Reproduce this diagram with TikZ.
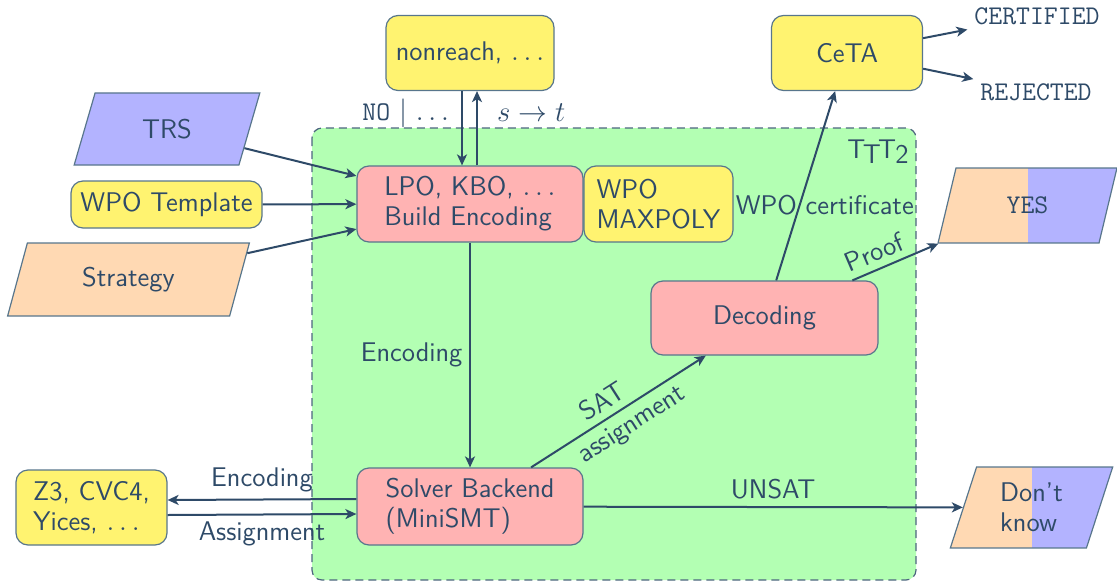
\documentclass[tikz,border=0pt]{standalone}
\usepackage{fontspec}
\renewcommand\familydefault{\sfdefault}
\usetikzlibrary{shapes.geometric,arrows.meta}
\definecolor{ink}{RGB}{46,74,104}
\definecolor{edge}{RGB}{88,118,140}
\definecolor{boxyellow}{RGB}{255,243,112}
\definecolor{boxred}{RGB}{255,179,179}
\definecolor{boxgreen}{RGB}{179,255,179}
\definecolor{boxblue}{RGB}{179,179,255}
\definecolor{boxorange}{RGB}{255,217,179}

\begin{document}
\begin{tikzpicture}[x=0.5pt,y=-0.5pt,
  every node/.style={text=ink, font=\fontsize{13.5}{15}\selectfont},
  box/.style={draw=edge, line width=0.6pt, rounded corners=6pt, inner sep=0pt, align=left},
  tool/.style={box, fill=boxyellow},
  stage/.style={box, fill=boxred},
  io/.style={trapezium, trapezium left angle=70, trapezium right angle=110,
    trapezium stretches=true, draw=edge, line width=0.6pt, inner sep=0pt, align=left},
  split/.style={path picture={
    \fill[boxorange] (path picture bounding box.south west) rectangle (path picture bounding box.north);
    \fill[boxblue] (path picture bounding box.north) rectangle (path picture bounding box.south east);}},
  verdict/.style={font=\fontsize{13.5}{15}\selectfont\ttfamily},
  flow/.style={draw=ink, line width=1pt, -{Stealth[length=5.5pt,width=5pt,inset=1.5pt]}},
]
\useasboundingbox (0,0) rectangle (1117,583);

% the tool itself
\draw[draw=ink!85, fill=boxgreen, line width=0.6pt, dash pattern=on 4pt off 2.5pt,
  rounded corners=5pt] (312,128) rectangle (916,580);
\node (ttt) at (878,152) {T\kern-.1em\raisebox{-.45ex}{T}\kern-.1em T\kern-.03em\raisebox{-.45ex}{2}};

% boxes
\node[tool, minimum width=84pt, minimum height=37.5pt] (nonreach) at (470,53) {nonreach, $\ldots$};
\node[tool, minimum width=75.5pt, minimum height=37.5pt] (ceta) at (847,53) {CeTA};
\node[verdict] (cert) at (1037,16) {CERTIFIED};
\node[verdict] (rej) at (1036,92) {REJECTED};

\node[stage, minimum width=113pt, minimum height=38pt] (lpo) at (470,204) {LPO, KBO, $\ldots$\\Build Encoding};
\node[tool, minimum width=74.5pt, minimum height=38pt] (maxpoly) at (658.5,204) {WPO\\MAXPOLY};
\node[stage, minimum width=113.5pt, minimum height=37pt] (decode) at (764.5,318) {Decoding};
\node[stage, minimum width=113pt, minimum height=38.5pt] (solver) at (470,506.5) {Solver Backend\\(MiniSMT)};
\node[tool, minimum width=75.5pt, minimum height=37.5pt] (smt) at (91.5,507.5) {Z3, CVC4,\\Yices, $\ldots$};

\node[io, fill=boxblue, minimum width=93pt, minimum height=36pt] (trs) at (167,129) {TRS};
\node[tool, minimum width=95.5pt, minimum height=23.5pt] (tmpl) at (166.5,204.5) {WPO Template};
\node[io, fill=boxorange, minimum width=121.5pt, minimum height=36.5pt] (strat) at (128.5,279.5) {Strategy};

\node[io, split, trapezium left angle=73, trapezium right angle=107,
  minimum width=89.5pt, minimum height=37.5pt] (yes) at (1027.5,205.5) {\ttfamily YES};
\node[io, split, trapezium left angle=73, trapezium right angle=107,
  minimum width=81.5pt, minimum height=40.5pt] (unknown) at (1031.5,507.5) {Don't\\know};

% connectors
\draw[flow] (trs) -- (lpo);
\draw[flow] (tmpl) -- (lpo);
\draw[flow] (strat) -- (lpo);

\draw[flow] ([xshift=-4pt]nonreach.south) -- ([xshift=-4pt]lpo.north);
\draw[flow] ([xshift=3.5pt]lpo.north) -- ([xshift=3.5pt]nonreach.south);
\node[anchor=east] (nolabel) at (456,113) {\texttt{NO} $\mid$ $\ldots$};
\node[anchor=west] (stlabel) at (490,113) {$s \to t$};

\draw[flow] (lpo) -- node[left] {Encoding} (solver);
\draw[flow] (solver) -- node[sloped, above, pos=0.46] {SAT}
  node[sloped, below, pos=0.52] {assignment} (decode);
\draw[flow] (decode) -- node[pos=0.4, xshift=12.5pt] {WPO certificate} (ceta);
\draw[flow] (decode) -- node[sloped, above, pos=0.33] {Proof} (yes);
\draw[flow] (solver) -- node[above] {UNSAT} (unknown);

\draw[flow] ([yshift=3.75pt]solver.west) -- node[above] {Encoding} ([yshift=3.75pt]smt.east);
\draw[flow] ([yshift=-3.75pt]smt.east) -- node[below] {Assignment} ([yshift=-3.75pt]solver.west);

\draw[flow] (ceta) -- (cert);
\draw[flow] (ceta) -- (rej);
\end{tikzpicture}
\end{document}
